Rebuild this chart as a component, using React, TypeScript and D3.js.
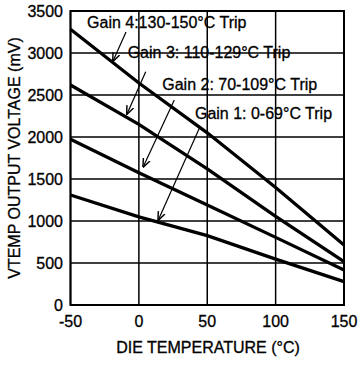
import React from "react";
import * as d3 from "d3";

const temps = [-50, 0, 50, 100, 150];
const gain1 = [1310, 1050, 825, 546, 278];
const gain2 = [1972, 1575, 1190, 805, 417];
const gain3 = [2619, 2150, 1620, 1055, 516];
const gain4 = [3282, 2643, 2050, 1398, 714];
const series = [gain1, gain2, gain3, gain4];

const xTicks = [-50, 0, 50, 100, 150];
const yTicks = [0, 500, 1000, 1500, 2000, 2500, 3000, 3500];

const labels = [
  "Gain 4:130-150°C Trip",
  "Gain 3: 110-129°C Trip",
  "Gain 2: 70-109°C Trip",
  "Gain 1: 0-69°C Trip",
];
// label anchor (temp, mV) and arrow [from temp,mV] -> [to temp,mV]
const labelPos = [
  [-37.9, 3298],
  [-8.2, 2937],
  [17.1, 2560],
  [41, 2211],
];
const arrows = [
  [[-9.4, 3250], [-18.9, 2905]],
  [[5.0, 2777], [-8.7, 2274]],
  [[25.9, 2440], [3.2, 1646]],
  [[44.7, 2123], [14.2, 1012]],
];

export default function App() {
  const W = 363, H = 377;
  const x = d3.scaleLinear().domain([-50, 150]).range([70.5, 344]);
  const y = d3.scaleLinear().domain([0, 3500]).range([305, 11]);
  const line = d3
    .line<number>()
    .x((_, i) => x(temps[i]))
    .y((d) => y(d));
  const font = "'Liberation Sans', Arial, sans-serif";
  const ts = { fontFamily: font, fontSize: 16, fill: "#000", stroke: "#000", strokeWidth: 0.3 };
  return (
    <svg width={W} height={H} style={{ position: "absolute", left: 0, top: 0 }}>
      <defs>
        <marker id="ah" viewBox="0 0 10 10" refX="9" refY="5" markerWidth="9" markerHeight="9" orient="auto" markerUnits="userSpaceOnUse">
          <path d="M0,1 L10,5 L0,9" fill="none" stroke="#000" strokeWidth={1.6} />
        </marker>
      </defs>
      <rect x={0} y={0} width={W} height={H} fill="#fff" />
      {xTicks.map((t) => (
        <line key={"gx" + t} x1={x(t)} x2={x(t)} y1={y(0)} y2={y(3500)} stroke="#000" strokeWidth={1.5} />
      ))}
      {yTicks.map((t) => (
        <line key={"gy" + t} x1={x(-50)} x2={x(150)} y1={y(t)} y2={y(t)} stroke="#000" strokeWidth={1.5} />
      ))}
      <rect x={x(-50)} y={y(3500)} width={x(150) - x(-50)} height={y(0) - y(3500)} fill="none" stroke="#000" strokeWidth={2} />
      {series.map((s, i) => (
        <path key={"s" + i} d={line(s) || ""} fill="none" stroke="#000" strokeWidth={3.3} />
      ))}
      {labels.map((l, i) => (
        <text key={"l" + i} x={x(labelPos[i][0])} y={y(labelPos[i][1])} {...ts}>
          {l}
        </text>
      ))}
      {arrows.map((a, i) => (
        <line key={"a" + i} x1={x(a[0][0])} y1={y(a[0][1])} x2={x(a[1][0])} y2={y(a[1][1])} stroke="#000" strokeWidth={1.2} markerEnd="url(#ah)" />
      ))}
      {yTicks.map((t) => (
        <text key={"yt" + t} x={63} y={y(t) + 6} textAnchor="end" {...ts}>
          {t}
        </text>
      ))}
      {xTicks.map((t) => (
        <text key={"xt" + t} x={x(t)} y={327} textAnchor="middle" {...ts}>
          {t}
        </text>
      ))}
      <text x={208} y={353} textAnchor="middle" {...ts}>
        DIE TEMPERATURE (°C)
      </text>
      <text transform="translate(20,158) rotate(-90)" textAnchor="middle" {...ts}>
        VTEMP OUTPUT VOLTAGE (mV)
      </text>
    </svg>
  );
}
